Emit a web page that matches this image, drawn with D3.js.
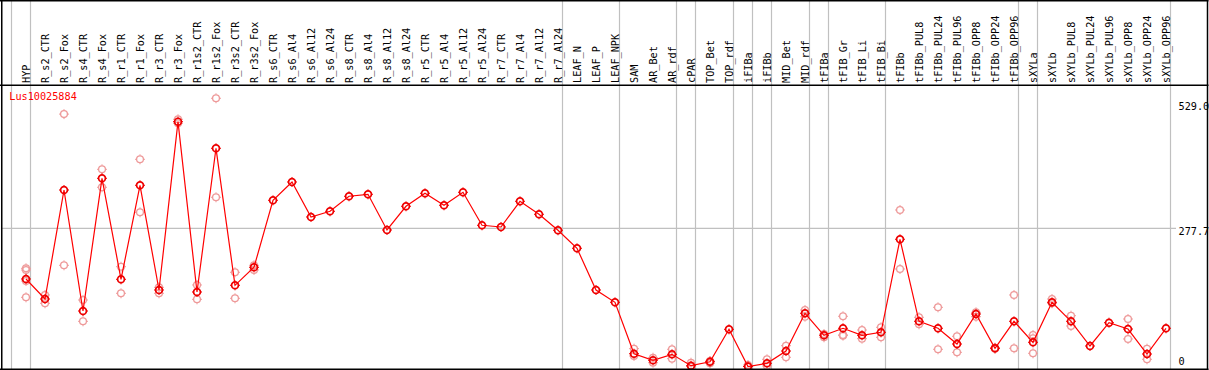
<!DOCTYPE html>
<html>
<head>
<meta charset="utf-8">
<script src="https://cdn.jsdelivr.net/npm/d3@7/dist/d3.min.js"></script>
<style>
  html, body { margin: 0; padding: 0; background: #fff; }
  svg { display: block; }
  text { font-family: "DejaVu Sans Mono", "Liberation Mono", monospace; font-size: 10.2px; }
</style>
</head>
<body>
<svg id="chart" width="1209" height="370"></svg>
<script>
const title = "Lus10025884";
const categories = ["HYP","R_s2_CTR","R_s2_Fox","R_s4_CTR","R_s4_Fox","R_r1_CTR","R_r1_Fox","R_r3_CTR","R_r3_Fox","R_r1s2_CTR","R_r1s2_Fox","R_r3s2_CTR","R_r3s2_Fox","R_s6_CTR","R_s6_Al4","R_s6_Al12","R_s6_Al24","R_s8_CTR","R_s8_Al4","R_s8_Al12","R_s8_Al24","R_r5_CTR","R_r5_Al4","R_r5_Al12","R_r5_Al24","R_r7_CTR","R_r7_Al4","R_r7_Al12","R_r7_Al24","LEAF_N","LEAF_P","LEAF_NPK","SAM","AR_Bet","AR_rdf","cPAR","TOP_Bet","TOP_rdf","iFIBa","iFIBb","MID_Bet","MID_rdf","tFIBa","tFIB_Gr","tFIB_Li","tFIB_Bi","tFIBb","tFIBb_PUL8","tFIBb_PUL24","tFIBb_PUL96","tFIBb_OPP8","tFIBb_OPP24","tFIBb_OPP96","sXYLa","sXYLb","sXYLb_PUL8","sXYLb_PUL24","sXYLb_PUL96","sXYLb_OPP8","sXYLb_OPP24","sXYLb_OPP96"];
const groups = [0,1,1,1,1,1,1,1,1,1,1,1,1,1,1,1,1,1,1,1,1,1,1,1,1,1,1,1,1,2,2,2,3,3,3,4,5,5,6,7,8,8,9,10,10,10,11,11,11,11,11,11,11,12,13,13,13,13,13,13,13];
const means = [175.8,135.6,354.6,111.5,378.1,175.2,364.1,153.7,491.9,149.7,438.4,163.1,199.3,333.9,370.7,300.4,311.8,342.0,346.0,274.3,321.9,348.0,323.9,350.0,283.7,280.3,331.9,305.8,273.7,237.5,153.7,129.0,25.7,12.5,24.5,1.6,9.6,74.7,0,6.4,31.1,106.9,62.7,76.8,62.7,68.7,255.6,90.8,76.8,45.2,105.5,36.6,90.8,48.6,129.0,90.8,41.2,88.0,75.3,25.1,76.8];
const replicates = [
  [197.3,193.9,171.8,139.0],[143.7,127.0],[507.1,203.3],[133.6,90.8],[396.2,360.1],[200.5,147.1],[416.3,309.8],[159.1,147.1],[496.7,488.6],[163.8,135.0],[538.9,340.0],[189.3,137.0],[203.3,193.9],
  [],[],[],[],[],[],[],[],[],[],[],[],[],[],[],[],[],[],[],
  [35.8,21.1],[17.7,7.6],[34.6,15.7],[7.6,0],[11.0,6.4],[],[3.0,0],[14.5,1.0],[41.8,18.5],[113.5,100.1],[65.3,58.7],[100.9,63.5,62.0],[73.3,55.9],[78.8,58.7],[314.4,195.9],
  [98.9,84.8],[118.9,34.6],[60.7,28.5],[108.9,100.1],[37.8,35.8],[143.7,36.6],[63.3,56.7,26.5],[135.6,127.0],[102.1,81.4],[],[],[95.4,55.3],[35.8,14.5],[]
];
const yTicks = [0, 277.7, 529.0];
const yTickLabels = ["0", "277.7", "529.0"];

const W = 1209, H = 370;
const svg = d3.select("#chart");

const x = d3.scaleBand().domain(categories).range([11.5, 11.5 + 19 * categories.length]).padding(0);
const px = c => x(c) + 14.5;
const y = d3.scaleLinear().domain([0, 529.0]).range([366.5, 103.2]);

const grey = "#c0c0c0";
// vertical group separators
const seps = [x(categories[0])];
categories.forEach((c, i) => {
  if (i === categories.length - 1 || groups[i] !== groups[i + 1]) seps.push(x(c) + x.bandwidth());
});
svg.append("g").selectAll("line").data(seps).join("line")
  .attr("x1", d => Math.round(d) - 0.5).attr("x2", d => Math.round(d) - 0.5)
  .attr("y1", 0).attr("y2", 369)
  .attr("stroke", grey).attr("stroke-width", 1.2);

// horizontal grid (interior ticks)
svg.append("g").selectAll("line").data(yTicks.filter(v => v > 0 && v < 529)).join("line")
  .attr("x1", 1).attr("x2", 1176)
  .attr("y1", d => y(d)).attr("y2", d => y(d))
  .attr("stroke", grey).attr("stroke-width", 1.2);

// tick labels
svg.append("g").selectAll("text").data(yTicks).join("text")
  .attr("x", 1178.5)
  .attr("y", d => Math.min(y(d) + 7.1, 365.3))
  .attr("fill", "#000")
  .text((d, i) => yTickLabels[i]);

// header labels
svg.append("g").selectAll("text").data(categories).join("text")
  .attr("transform", d => `translate(${px(d)},83) rotate(-90)`)
  .attr("dy", "0.35em")
  .attr("fill", "#000")
  .text(d => d);

// title
svg.append("text").attr("x", 9.3).attr("y", 100.4).attr("fill", "#ff0000").text(title);

function marker(g, cx, cy, color, sw) {
  g.append("circle").attr("cx", cx).attr("cy", cy).attr("r", 3.4)
    .attr("fill", "none").attr("stroke", color).attr("stroke-width", sw);
  g.append("path")
    .attr("d", `M${cx-5},${cy}H${cx-3.6}M${cx+3.6},${cy}H${cx+5}M${cx},${cy-5}V${cy-3.6}M${cx},${cy+3.6}V${cy+5}`)
    .attr("stroke", color).attr("stroke-width", 1);
}

// replicates
const repG = svg.append("g");
categories.forEach((c, i) => {
  replicates[i].forEach(v => marker(repG, px(c), y(v), "#ee9a9a", 1.3));
});

// line
const line = d3.line().x((d, i) => px(categories[i])).y(d => y(d));
svg.append("path").datum(means).attr("d", line)
  .attr("fill", "none").attr("stroke", "#ff0000").attr("stroke-width", 1.2);

// means
const meanG = svg.append("g");
categories.forEach((c, i) => marker(meanG, px(c), y(means[i]), "#ee0000", 1.7));

// frame
const fr = svg.append("g").attr("stroke", "#000").attr("stroke-width", 1.5);
fr.append("line").attr("x1", 0).attr("x2", 1208.5).attr("y1", 0.75).attr("y2", 0.75);
fr.append("line").attr("x1", 0).attr("x2", 1208.5).attr("y1", 85.25).attr("y2", 85.25);
fr.append("line").attr("x1", 0).attr("x2", 1208.5).attr("y1", 369.25).attr("y2", 369.25);
fr.append("line").attr("x1", 1.75).attr("x2", 1.75).attr("y1", 0).attr("y2", 370);
fr.append("line").attr("x1", 1207.5).attr("x2", 1207.5).attr("y1", 0).attr("y2", 370);
</script>
</body>
</html>
